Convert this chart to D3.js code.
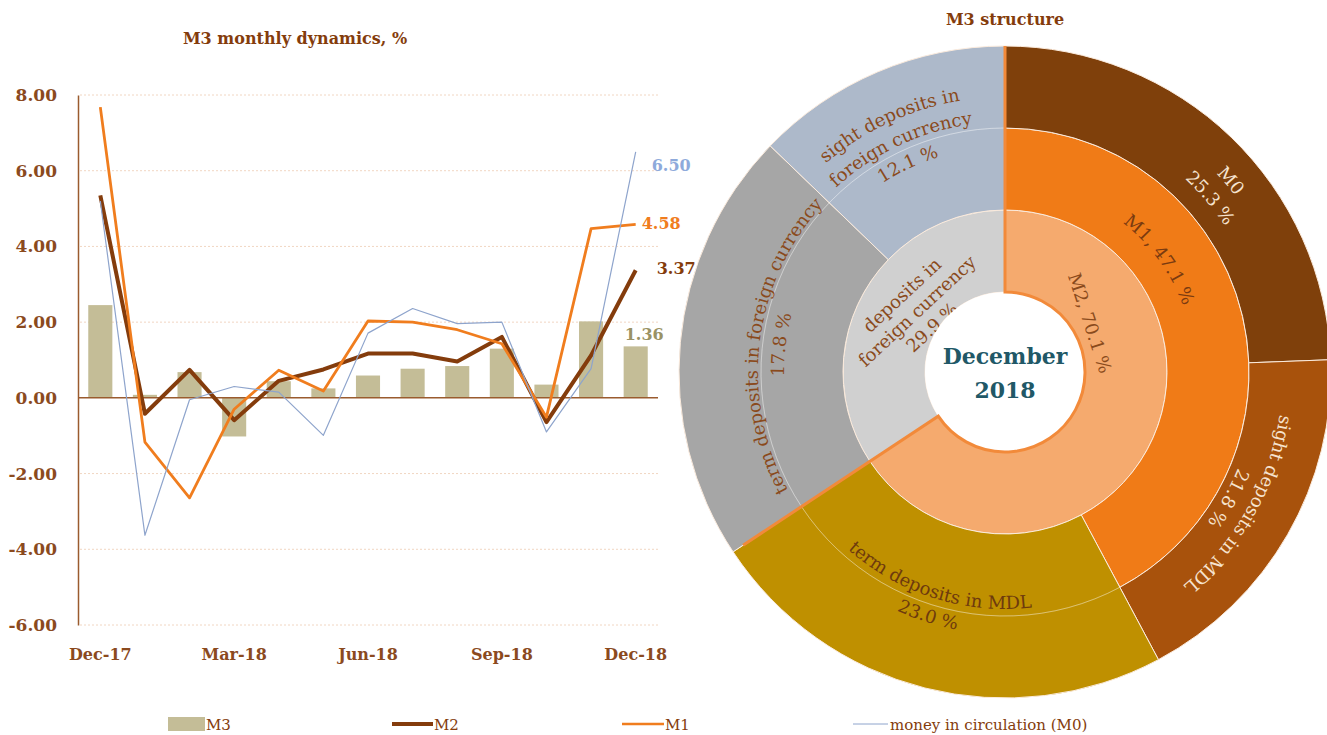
<!DOCTYPE html>
<html><head><meta charset="utf-8">
<script src="https://cdn.jsdelivr.net/npm/d3@7"></script>
<style>body{margin:0;background:#fff}svg{display:block}</style>
</head><body>
<svg id="c" width="1327" height="735"></svg>
<script>
// ---------------- data ----------------
const months = ["Dec-17","Jan-18","Feb-18","Mar-18","Apr-18","May-18","Jun-18","Jul-18","Aug-18","Sep-18","Oct-18","Nov-18","Dec-18"];
const tickMonths = ["Dec-17","Mar-18","Jun-18","Sep-18","Dec-18"];
const yTicks = [-6,-4,-2,0,2,4,6,8];
const m3Values = [2.45,0.08,0.68,-1.02,0.44,0.25,0.59,0.77,0.84,1.30,0.35,2.02,1.36];
const m2Values = [5.35,-0.42,0.74,-0.59,0.45,0.75,1.17,1.17,0.96,1.61,-0.64,1.12,3.37];
const m1Values = [7.68,-1.17,-2.64,-0.30,0.73,0.18,2.03,2.00,1.80,1.43,-0.51,4.47,4.58];
const m0Values = [5.20,-3.63,-0.05,0.30,0.15,-0.99,1.71,2.36,1.96,2.00,-0.90,0.77,6.50];
const seriesNames = ["M3","M2","M1","money in circulation (M0)"];

// M3 structure (December 2018)
const pieCats = ["M0","sight deposits in MDL","term deposits in MDL","term deposits in foreign currency","sight deposits in foreign currency"];
const piePct = [25.3, 21.8, 23.0, 17.8, 12.1];           // printed shares
const pieShares = [24.4, 17.8, 23.5, 21.5, 12.8];        // angular shares as drawn in the source graphic
const groupNames = ["M1","M2","deposits in foreign currency"];
const groupPct = [47.1, 70.1, 29.9];

// ---------------- setup ----------------
const svg = d3.select("#c");
const serif = "'DejaVu Serif', serif";
const brown = "#843C0C";
const axisBrown = "#9A5B2E";
const fmtPct = v => v.toFixed(1) + " %";

// ---------------- left chart ----------------
const x = d3.scaleBand().domain(months).range([78,658]).paddingInner(0.46).paddingOuter(0.23);
const y = d3.scaleLinear().domain([-6,8]).range([625,95]);
const cx = m => x(m) + x.bandwidth()/2;

svg.append("text").attr("x",295).attr("y",44).attr("text-anchor","middle")
  .attr("font-family",serif).attr("font-weight","bold").attr("font-size",16).attr("fill",brown)
  .text("M3 monthly dynamics, %");

svg.append("g").selectAll("line").data(yTicks.filter(d=>d!==0)).join("line")
  .attr("x1",80).attr("x2",658).attr("y1",d=>y(d)).attr("y2",d=>y(d))
  .attr("stroke","#F1D6C2").attr("stroke-width",1).attr("stroke-dasharray","2,2");

const gy = svg.append("g").attr("transform","translate(78,0)")
  .call(d3.axisLeft(y).tickValues(yTicks).tickSize(0).tickSizeOuter(0).tickPadding(21).tickFormat(d=>d.toFixed(2)));
gy.select(".domain").attr("stroke",axisBrown).attr("stroke-width",1.5);
gy.selectAll("text").attr("font-family",serif).attr("font-size",17).attr("font-weight","bold").attr("fill","#8B4A1E");

const gx = svg.append("g").attr("transform","translate(0,625)")
  .call(d3.axisBottom(x).tickValues(tickMonths).tickSize(0).tickPadding(24));
gx.select(".domain").remove();
gx.selectAll("text").attr("font-family",serif).attr("font-size",16).attr("font-weight","bold").attr("fill","#8B4A1E");

svg.append("g").selectAll("rect").data(m3Values).join("rect")
  .attr("x",(d,i)=>x(months[i])).attr("width",x.bandwidth())
  .attr("y",d=>y(Math.max(0,d))).attr("height",d=>Math.abs(y(d)-y(0)))
  .attr("fill","#C4BD97");

svg.append("line").attr("x1",78).attr("x2",658).attr("y1",y(0)).attr("y2",y(0))
  .attr("stroke",axisBrown).attr("stroke-width",1.5);

const line = d3.line().x((d,i)=>cx(months[i])).y(d=>y(d));
svg.append("path").datum(m2Values).attr("d",line).attr("fill","none").attr("stroke","#843C0C").attr("stroke-width",4).attr("stroke-linejoin","round");
svg.append("path").datum(m1Values).attr("d",line).attr("fill","none").attr("stroke","#F07D1E").attr("stroke-width",2.8).attr("stroke-linejoin","round");
svg.append("path").datum(m0Values).attr("d",line).attr("fill","none").attr("stroke","#8EA4CC").attr("stroke-width",1.2).attr("stroke-linejoin","round");

const last = months.length-1, lx = cx(months[last]);
const endLabels = [
  {v:m0Values[last], dx:16, dy:14, c:"#8EAADB"},
  {v:m1Values[last], dx:6, dy:-1, c:"#F07D1E"},
  {v:m2Values[last], dx:21, dy:-2, c:"#843C0C"},
  {v:m3Values[last], dx:-11, dy:-12, c:"#9A9264"}
];
svg.append("g").selectAll("text").data(endLabels).join("text")
  .attr("x",d=>lx+d.dx).attr("y",d=>y(d.v)+d.dy).attr("dy","0.35em")
  .attr("font-family",serif).attr("font-size",16).attr("font-weight","bold").attr("fill",d=>d.c)
  .text(d=>d.v.toFixed(2));

// legend
const lg = svg.append("g").attr("font-family",serif).attr("font-size",15).attr("fill",brown);
lg.append("rect").attr("x",168).attr("y",717).attr("width",37).attr("height",14).attr("fill","#C4BD97");
lg.append("text").attr("x",206).attr("y",730).text(seriesNames[0]);
lg.append("line").attr("x1",392).attr("x2",433).attr("y1",724).attr("y2",724).attr("stroke","#843C0C").attr("stroke-width",4);
lg.append("text").attr("x",434).attr("y",730).text(seriesNames[1]);
lg.append("line").attr("x1",622).attr("x2",664).attr("y1",724).attr("y2",724).attr("stroke","#F07D1E").attr("stroke-width",2.5);
lg.append("text").attr("x",665).attr("y",730).text(seriesNames[2]);
lg.append("line").attr("x1",853).attr("x2",888).attr("y1",724).attr("y2",724).attr("stroke","#8EA4CC").attr("stroke-width",1);
lg.append("text").attr("x",890).attr("y",730).text(seriesNames[3]);

// ---------------- pie / sunburst ----------------
svg.append("text").attr("x",1005).attr("y",25).attr("text-anchor","middle")
  .attr("font-family",serif).attr("font-weight","bold").attr("font-size",16).attr("fill",brown)
  .text("M3 structure");

const R0=80, R1=162, R2=244, R3=326;
const pc = svg.append("g").attr("transform","translate(1005,372)");
const slices = d3.pie().sort(null).value(d=>d)(pieShares);
const leafColors = ["#7F400B","#A8520C","#BF9000","#A6A6A6","#ADB9CA"];
const arc = d3.arc();
const sep = "#FBEBDD";

// inner ring: M2 and deposits in foreign currency
const inner = [
  {s:0, e:slices[2].endAngle, c:"#F5AA6E"},
  {s:slices[3].startAngle, e:slices[4].endAngle, c:"#D0D0D0"}
];
pc.selectAll("path.inner").data(inner).join("path").attr("class","inner")
  .attr("d",d=>arc({innerRadius:R0,outerRadius:R1,startAngle:d.s,endAngle:d.e}))
  .attr("fill",d=>d.c).attr("stroke",sep).attr("stroke-width",1);
// middle ring: M1
pc.append("path").attr("d",arc({innerRadius:R1,outerRadius:R2,startAngle:slices[0].startAngle,endAngle:slices[1].endAngle}))
  .attr("fill","#F07B17").attr("stroke",sep).attr("stroke-width",1);
// leaves
pc.selectAll("path.leaf").data(slices).join("path").attr("class","leaf")
  .attr("d",(d,i)=>arc({innerRadius: i<2?R2:R1, outerRadius:R3, startAngle:d.startAngle, endAngle:d.endAngle}))
  .attr("fill",(d,i)=>leafColors[i]).attr("stroke",sep).attr("stroke-width",1);
// faint ring separator across leaves without sub-level
pc.append("path").attr("d",arc({innerRadius:R2,outerRadius:R2,startAngle:slices[2].startAngle,endAngle:slices[4].endAngle}))
  .attr("fill","none").attr("stroke","#ffffff").attr("stroke-opacity",0.25).attr("stroke-width",1);

// curved labels (one <text> per label, one textPath per line)
function arcPath(angDeg, r, cw){
  const a = angDeg*Math.PI/180, span = Math.PI*0.85;
  const s = cw ? a-span : a+span, e = cw ? a+span : a-span;
  const p0 = d3.pointRadial(s,r), p1 = d3.pointRadial(e,r);
  return `M${p0[0]},${p0[1]}A${r},${r} 0 1 ${cw?1:0} ${p1[0]},${p1[1]}`;
}
const labBrown = "#8A4A1C", cream = "#F6E3CF";
const curved = [
  {lines:["sight deposits in","foreign currency",fmtPct(piePct[4])], ang:335, radii:[281,256,231], cw:true, fill:labBrown},
  {lines:[pieCats[3],fmtPct(piePct[3])], ang:277, radii:[253,227], cw:true, fill:labBrown},
  {lines:[pieCats[2],fmtPct(piePct[2])], ang:197.5, radii:[231,256], cw:false, fill:"#6E3A0E"},
  {lines:[pieCats[1],fmtPct(piePct[1])], ang:119.5, radii:[284,258], cw:true, fill:cream},
  {lines:[pieCats[0],fmtPct(piePct[0])], ang:49.7, radii:[296,270], cw:true, fill:cream},
  {lines:[groupNames[0]+", "+fmtPct(groupPct[0])], ang:54, radii:[196], cw:true, fill:"#7A3A10"}
];
const fs = 18;
let pid = 0;
const defs = svg.append("defs");
curved.forEach(L=>{
  const t = pc.append("text").attr("font-family",serif).attr("font-size",fs).attr("fill",L.fill);
  L.lines.forEach((s,j)=>{
    const rb = L.cw ? L.radii[j]-0.33*fs : L.radii[j]+0.33*fs;
    const id = "lp"+(pid++);
    defs.append("path").attr("id",id).attr("d",arcPath(L.ang, rb, L.cw));
    t.append("textPath").attr("href","#"+id).attr("startOffset","50%").attr("text-anchor","middle").text(s);
  });
});
// straight labels
const straight = [
  {lines:[groupNames[1]+", "+fmtPct(groupPct[1])], ang:60, r:98, rot:72, fill:labBrown},
  {lines:["deposits in","foreign currency",fmtPct(groupPct[2])], ang:304.7, r:107, rot:-43, fill:labBrown}
];
straight.forEach(L=>{
  const p = d3.pointRadial(L.ang*Math.PI/180, L.r);
  const t = pc.append("text").attr("transform",`translate(${p[0]},${p[1]}) rotate(${L.rot})`)
    .attr("font-family",serif).attr("font-size",fs).attr("fill",L.fill).attr("text-anchor","middle");
  L.lines.forEach((s,j)=>{
    t.append("tspan").attr("x",0).attr("y",(j-(L.lines.length-1)/2)*22).attr("dy","0.35em").text(s);
  });
});

// hole
pc.append("circle").attr("r",R0).attr("fill","#fff");
// M2 outline (orange)
const a2 = slices[2].endAngle;
const op = d3.path();
const t0 = d3.pointRadial(0,R3), t1 = d3.pointRadial(0,R0), t2 = d3.pointRadial(a2,314);
op.moveTo(t0[0],t0[1]); op.lineTo(t1[0],t1[1]);
op.arc(0,0,R0,-Math.PI/2,a2-Math.PI/2,false);
op.lineTo(t2[0],t2[1]);
pc.append("path").attr("d",op.toString()).attr("fill","none").attr("stroke","#F28A3A").attr("stroke-width",3);

const ct = pc.append("text").attr("text-anchor","middle").attr("font-family",serif).attr("font-weight","bold")
  .attr("font-size",22).attr("fill","#215867");
ct.append("tspan").attr("x",0).attr("y",-8).text("December");
ct.append("tspan").attr("x",0).attr("y",26).text("2018");
</script>
</body></html>
